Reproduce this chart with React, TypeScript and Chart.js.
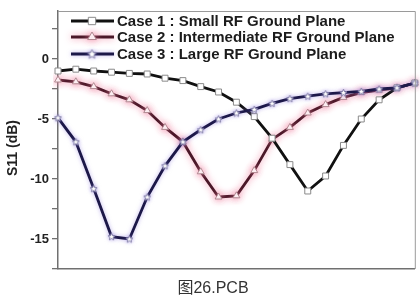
import React, { useEffect, useRef } from "react";
import { Chart, registerables } from "chart.js";
import { drawPoint } from "chart.js/helpers";

Chart.register(...registerables);

// ---- data ----
const sampleIndex = ["0", "1", "2", "3", "4", "5", "6", "7", "8", "9", "10", "11", "12", "13", "14", "15", "16", "17", "18", "19", "20"];
const case1Label = "Case 1 : Small RF Ground Plane";
const case2Label = "Case 2 : Intermediate RF Ground Plane";
const case3Label = "Case 3 : Large RF Ground Plane";
const case1Values = [-1.0, -0.85, -1.0, -1.1, -1.2, -1.25, -1.6, -1.8, -2.3, -2.75, -3.6, -4.8, -6.6, -8.8, -11.0, -9.75, -7.2, -5.0, -3.4, -2.4, -2.0];
const case2Values = [-1.75, -1.9, -2.3, -2.9, -3.4, -4.3, -5.7, -6.9, -9.4, -11.5, -11.4, -9.3, -6.7, -5.7, -4.5, -3.8, -3.2, -2.8, -2.6, -2.4, -2.0];
const case3Values = [-4.9, -6.9, -10.8, -14.8, -15.0, -11.5, -8.9, -6.9, -5.9, -5.0, -4.5, -4.2, -3.7, -3.3, -3.1, -2.9, -2.8, -2.7, -2.5, -2.4, -2.0];
const yTickValues = [2.5, 0, -2.5, -5, -7.5, -10, -12.5, -15, -17.5];
const yMajorTicks = [0, -5, -10, -15];
const yMin = -17.5;
const yMax = 4;
const yTitle = "S11 (dB)";
const caption = "图26.PCB";

const FONT = "'Liberation Sans', Arial, sans-serif";

function makeStar(size: number): HTMLCanvasElement {
  const c = document.createElement("canvas");
  c.width = size;
  c.height = size;
  const ctx = c.getContext("2d")!;
  const cx = size / 2;
  const cy = size / 2 + 0.3;
  const R = size / 2 - 0.8;
  const r = R * 0.45;
  ctx.beginPath();
  for (let i = 0; i < 10; i++) {
    const ang = -Math.PI / 2 + (i * Math.PI) / 5;
    const rad = i % 2 === 0 ? R : r;
    const x = cx + rad * Math.cos(ang);
    const y = cy + rad * Math.sin(ang);
    if (i === 0) ctx.moveTo(x, y);
    else ctx.lineTo(x, y);
  }
  ctx.closePath();
  ctx.fillStyle = "#ffffff";
  ctx.fill();
  ctx.strokeStyle = "#8480a8";
  ctx.lineWidth = 1;
  ctx.stroke();
  return c;
}

export default function App() {
  const ref = useRef<HTMLCanvasElement | null>(null);

  useEffect(() => {
    const canvas = ref.current;
    if (!canvas) return;
    const starSmall = makeStar(9);
    const starLegend = makeStar(11);

    const glowPlugin = {
      id: "glow",
      beforeDatasetDraw(chart: any, args: any) {
        const ds = chart.data.datasets[args.index];
        chart.ctx.save();
        if (ds.glowColor) {
          chart.ctx.shadowColor = ds.glowColor;
          chart.ctx.shadowBlur = ds.glowBlur || 5;
        }
      },
      afterDatasetDraw(chart: any) {
        chart.ctx.restore();
      },
    };

    const decoPlugin = {
      id: "deco",
      afterDraw(chart: any) {
        const ctx = chart.ctx as CanvasRenderingContext2D;
        const a = chart.chartArea;
        // frame top & right
        ctx.save();
        ctx.strokeStyle = "#9a9a9a";
        ctx.lineWidth = 1;
        ctx.beginPath();
        ctx.moveTo(a.left, a.top + 0.5);
        ctx.lineTo(a.right + 0.5, a.top + 0.5);
        ctx.lineTo(a.right + 0.5, a.bottom);
        ctx.stroke();
        ctx.restore();

        // y title
        ctx.save();
        ctx.translate(13, 148);
        ctx.rotate(-Math.PI / 2);
        ctx.font = `bold 14px ${FONT}`;
        ctx.fillStyle = "#222";
        ctx.textAlign = "center";
        ctx.textBaseline = "middle";
        ctx.fillText(yTitle, 0, 0);
        ctx.restore();

        // legend
        const rows = [21, 37, 54];
        chart.data.datasets.forEach((ds: any, i: number) => {
          if (!ds.label) return;
          const y = rows[i];
          ctx.save();
          if (ds.glowColor) {
            ctx.shadowColor = ds.glowColor;
            ctx.shadowBlur = ds.glowBlur || 5;
          }
          ctx.strokeStyle = ds.borderColor;
          ctx.lineWidth = 3;
          ctx.beginPath();
          ctx.moveTo(71, y);
          ctx.lineTo(114, y);
          ctx.stroke();
          ctx.fillStyle = "#ffffff";
          ctx.strokeStyle = ds.pointBorderColor;
          ctx.lineWidth = 1;
          const ps = ds.legendPointStyle || ds.pointStyle;
          drawPoint(ctx, { pointStyle: ps, rotation: 0, radius: ds.pointRadius + 1, borderWidth: 1 } as any, 92, y);
          ctx.restore();
          ctx.save();
          ctx.font = `bold 15px ${FONT}`;
          ctx.fillStyle = "#1c1c1c";
          ctx.textAlign = "left";
          ctx.textBaseline = "middle";
          ctx.fillText(ds.label, 117, y + 0.5);
          ctx.restore();
        });
      },
    };

    const chart = new Chart(canvas, {
      type: "line",
      data: {
        labels: sampleIndex,
        datasets: [
          {
            label: case1Label,
            data: case1Values,
            borderColor: "#111111",
            borderWidth: 2.8,
            pointStyle: "rect",
            pointRadius: 4.2,
            pointBackgroundColor: "#ffffff",
            pointBorderColor: "#8a8a8a",
            pointBorderWidth: 1,
            tension: 0,
            order: 1,
          } as any,
          {
            label: case2Label,
            data: case2Values,
            borderColor: "#4a1828",
            borderWidth: 2.8,
            pointStyle: "triangle",
            pointRadius: 4,
            pointBackgroundColor: "#ffffff",
            pointBorderColor: "#b08890",
            pointBorderWidth: 1,
            tension: 0,
            order: 2,
            glowColor: "rgba(240,130,160,0.9)",
            glowBlur: 7,
          } as any,
          {
            label: case3Label,
            data: case3Values,
            borderColor: "#1c1848",
            borderWidth: 2.8,
            pointStyle: starSmall,
            legendPointStyle: starLegend,
            pointRadius: 4,
            pointBackgroundColor: "#ffffff",
            pointBorderColor: "#8480a8",
            pointBorderWidth: 1,
            tension: 0,
            order: 0,
            glowColor: "rgba(140,120,220,0.55)",
            glowBlur: 4,
          } as any,
        ],
      },
      options: {
        responsive: false,
        animation: false,
        layout: { padding: { top: 11, right: 2, left: 0, bottom: 0 } },
        plugins: {
          legend: { display: false },
          tooltip: { enabled: false },
        },
        scales: {
          x: {
            type: "category",
            offset: false,
            ticks: { display: false },
            grid: { display: false, drawTicks: false },
            border: { display: true, color: "#707070", width: 1.5 },
            afterFit: (s: any) => {
              s.height = 27;
            },
          },
          y: {
            min: yMin,
            max: yMax,
            afterBuildTicks: (s: any) => {
              s.ticks = yTickValues.map((v) => ({ value: v }));
            },
            ticks: {
              autoSkip: false,
              padding: 3,
              color: "#222",
              font: { family: FONT, size: 13, weight: "bold" },
              callback: (v: any) => (yMajorTicks.includes(Number(v)) ? String(v) : ""),
            },
            grid: {
              display: true,
              drawOnChartArea: false,
              drawTicks: true,
              tickLength: 6,
              color: "#707070",
              lineWidth: 1.3,
            },
            border: { display: true, color: "#707070", width: 1.5 },
            afterFit: (s: any) => {
              s.width = 58;
            },
          },
        },
      } as any,
      plugins: [glowPlugin, decoPlugin],
    });

    return () => chart.destroy();
  }, []);

  return (
    <div
      style={{
        position: "fixed",
        left: 0,
        top: 0,
        width: 420,
        height: 296,
        background: "#ffffff",
        overflow: "hidden",
      }}
    >
      <canvas ref={ref} width={420} height={296} style={{ position: "absolute", left: 0, top: 0, width: 420, height: 296 }} />
      <div
        style={{
          position: "absolute",
          left: 0,
          top: 279,
          width: 426,
          textAlign: "center",
          font: `16px 'Liberation Sans', 'Noto Sans CJK SC', sans-serif`,
          lineHeight: "18px",
          color: "#333",
        }}
      >
        {caption}
      </div>
    </div>
  );
}
